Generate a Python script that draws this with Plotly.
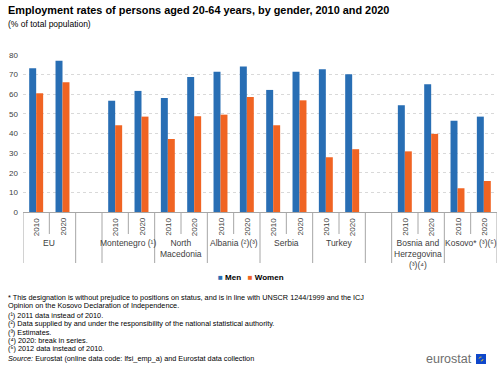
import plotly.graph_objects as go

# ---------------- data ----------------
groups = ["EU", "Montenegro (¹)", "North<br>Macedonia", "Albania (²)(³)", "Serbia",
          "Turkey", "Bosnia and<br>Herzegovina<br>(³)(⁴)", "Kosovo* (³)(⁵)"]
gap_before = [False, True, False, False, False, False, True, False]
years = ["2010", "2020"]
men = [73.2, 77.1, 56.7, 61.7, 58.1, 68.8, 71.5, 74.1, 62.2, 71.5,
       72.7, 70.2, 54.4, 65.1, 46.5, 48.6]
women = [60.5, 66.1, 44.2, 48.6, 37.2, 48.8, 49.6, 58.6, 44.2, 56.9,
         27.9, 32.0, 30.9, 39.8, 12.1, 15.8]
y_ticks = [0, 10, 20, 30, 40, 50, 60, 70, 80]

title = "<b>Employment rates of persons aged 20-64 years, by gender, 2010 and 2020</b>"
subtitle = "(% of total population)"
footnotes = [
    "* This designation is without prejudice to positions on status, and is in line with UNSCR 1244/1999 and the ICJ",
    "Opinion on the Kosovo Declaration of Independence.",
    "(¹) 2011 data instead of 2010.",
    "(²) Data supplied by and under the responsibility of the national statistical authority.",
    "(³) Estimates.",
    "(⁴) 2020: break in series.",
    "(⁵) 2012 data instead of 2010.",
    "<i>Source:</i> Eurostat (online data code: lfsi_emp_a) and Eurostat data collection",
]
footnote_y = [297, 305.5, 315.5, 323.8, 332, 340.2, 348.4, 358.5]

BLUE = "#286EB4"
ORANGE = "#F06423"
TXT = "#404040"
FONT = "Liberation Sans, Arial, sans-serif"

# ---------------- layout geometry ----------------
W, H = 500, 370
L, R, T, B = 23, 3, 55, 158
PW, PH = W - L - R, H - T - B


def px(xp):
    return (xp - L) / PW


def py(yp):
    return (H - B - yp) / PH


# slot positions for each group/year
slot_pos = []
group_center = []
s = 0
for g, gap in zip(groups, gap_before):
    if gap:
        s += 1
    slot_pos += [s, s + 1]
    group_center.append(s + 0.5)
    s += 2
n_slots = s

x_vals = slot_pos
fig = go.Figure()
fig.add_trace(go.Bar(x=x_vals, y=men, name="Men", marker_color=BLUE))
fig.add_trace(go.Bar(x=x_vals, y=women, name="Women", marker_color=ORANGE))

shapes = []
annotations = []

# separators
short_y = -(234 - (H - B)) / PH
long_y = -(263 - (H - B)) / PH
boundaries_long = set()
for i, (g, gap) in enumerate(zip(groups, gap_before)):
    start = slot_pos[2 * i]
    boundaries_long.add(start - 0.5)
    boundaries_long.add(start + 1.5)
    shapes.append(dict(type="line", xref="x", yref="paper", x0=start + 0.5, x1=start + 0.5,
                       y0=0, y1=short_y, line=dict(color="#a6a6a6", width=1)))
for b in sorted(boundaries_long):
    shapes.append(dict(type="line", xref="x", yref="paper", x0=b, x1=b,
                       y0=0, y1=long_y, line=dict(color="#a6a6a6", width=1)))

# year labels
for i, p in enumerate(slot_pos):
    annotations.append(dict(x=p, y=py(227), xref="x", yref="paper", text=years[i % 2],
                            textangle=-90, showarrow=False, xanchor="center", yanchor="middle",
                            font=dict(family=FONT, size=8, color=TXT)))
# group labels
for g, c in zip(groups, group_center):
    annotations.append(dict(x=c, y=py(236), xref="x", yref="paper", text=g,
                            showarrow=False, xanchor="center", yanchor="top",
                            font=dict(family=FONT, size=8.5, color=TXT)))

# title & subtitle
annotations.append(dict(x=px(6), y=py(10), xref="paper", yref="paper", text=title,
                        showarrow=False, xanchor="left", yanchor="middle",
                        font=dict(family=FONT, size=10.9, color="#000000")))
annotations.append(dict(x=px(6), y=py(24), xref="paper", yref="paper", text=subtitle,
                        showarrow=False, xanchor="left", yanchor="middle",
                        font=dict(family=FONT, size=8.5, color="#000000")))

# legend (as text)
legend_text = (f"<span style='color:{BLUE}'>■</span> <b>Men</b>   "
               f"<span style='color:{ORANGE}'>■</span> <b>Women</b>")
annotations.append(dict(x=px(251), y=py(277), xref="paper", yref="paper", text=legend_text,
                        showarrow=False, xanchor="center", yanchor="middle",
                        font=dict(family=FONT, size=8, color="#000000")))

# footnotes
for t, yy in zip(footnotes, footnote_y):
    annotations.append(dict(x=px(6), y=py(yy), xref="paper", yref="paper", text=t,
                            showarrow=False, xanchor="left", yanchor="middle",
                            font=dict(family=FONT, size=7.3, color="#000000")))

# eurostat logo
annotations.append(dict(x=px(474), y=py(359), xref="paper", yref="paper", text="eurostat",
                        showarrow=False, xanchor="right", yanchor="middle",
                        font=dict(family=FONT, size=12.5, color="#6e6e6e")))
shapes.append(dict(type="rect", xref="paper", yref="paper", x0=px(476), x1=px(486),
                   y0=py(354), y1=py(364), fillcolor="#0E47CB", line=dict(width=0)))
shapes.append(dict(type="circle", xref="paper", yref="paper", x0=px(479), x1=px(483),
                   y0=py(357), y1=py(361), line=dict(color="#FFD617", width=0.8, dash="dot")))

fig.update_layout(
    template="none",
    width=W, height=H,
    margin=dict(l=L, r=R, t=T, b=B, autoexpand=False),
    paper_bgcolor="white", plot_bgcolor="white",
    barmode="group", bargap=0.47, bargroupgap=0,
    showlegend=False,
    shapes=shapes, annotations=annotations,
    font=dict(family=FONT),
)
fig.update_xaxes(range=[-0.5, n_slots - 0.5], showticklabels=False, showgrid=False,
                 zeroline=False, showline=True, linecolor="#a6a6a6", linewidth=1,
                 ticks="", automargin=False, fixedrange=True)
fig.update_yaxes(range=[0, 80], tickvals=y_ticks, showgrid=True, gridcolor="#d9d9d9",
                 griddash="dot", gridwidth=1, zeroline=False, showline=False, ticks="",
                 tickfont=dict(family=FONT, size=8, color=TXT), automargin=False,
                 ticklabelstandoff=4, fixedrange=True)

fig.write_html(
    "out.html",
    config={"displayModeBar": False},
    post_script="document.body.style.margin='0';document.body.style.overflow='hidden';",
)
